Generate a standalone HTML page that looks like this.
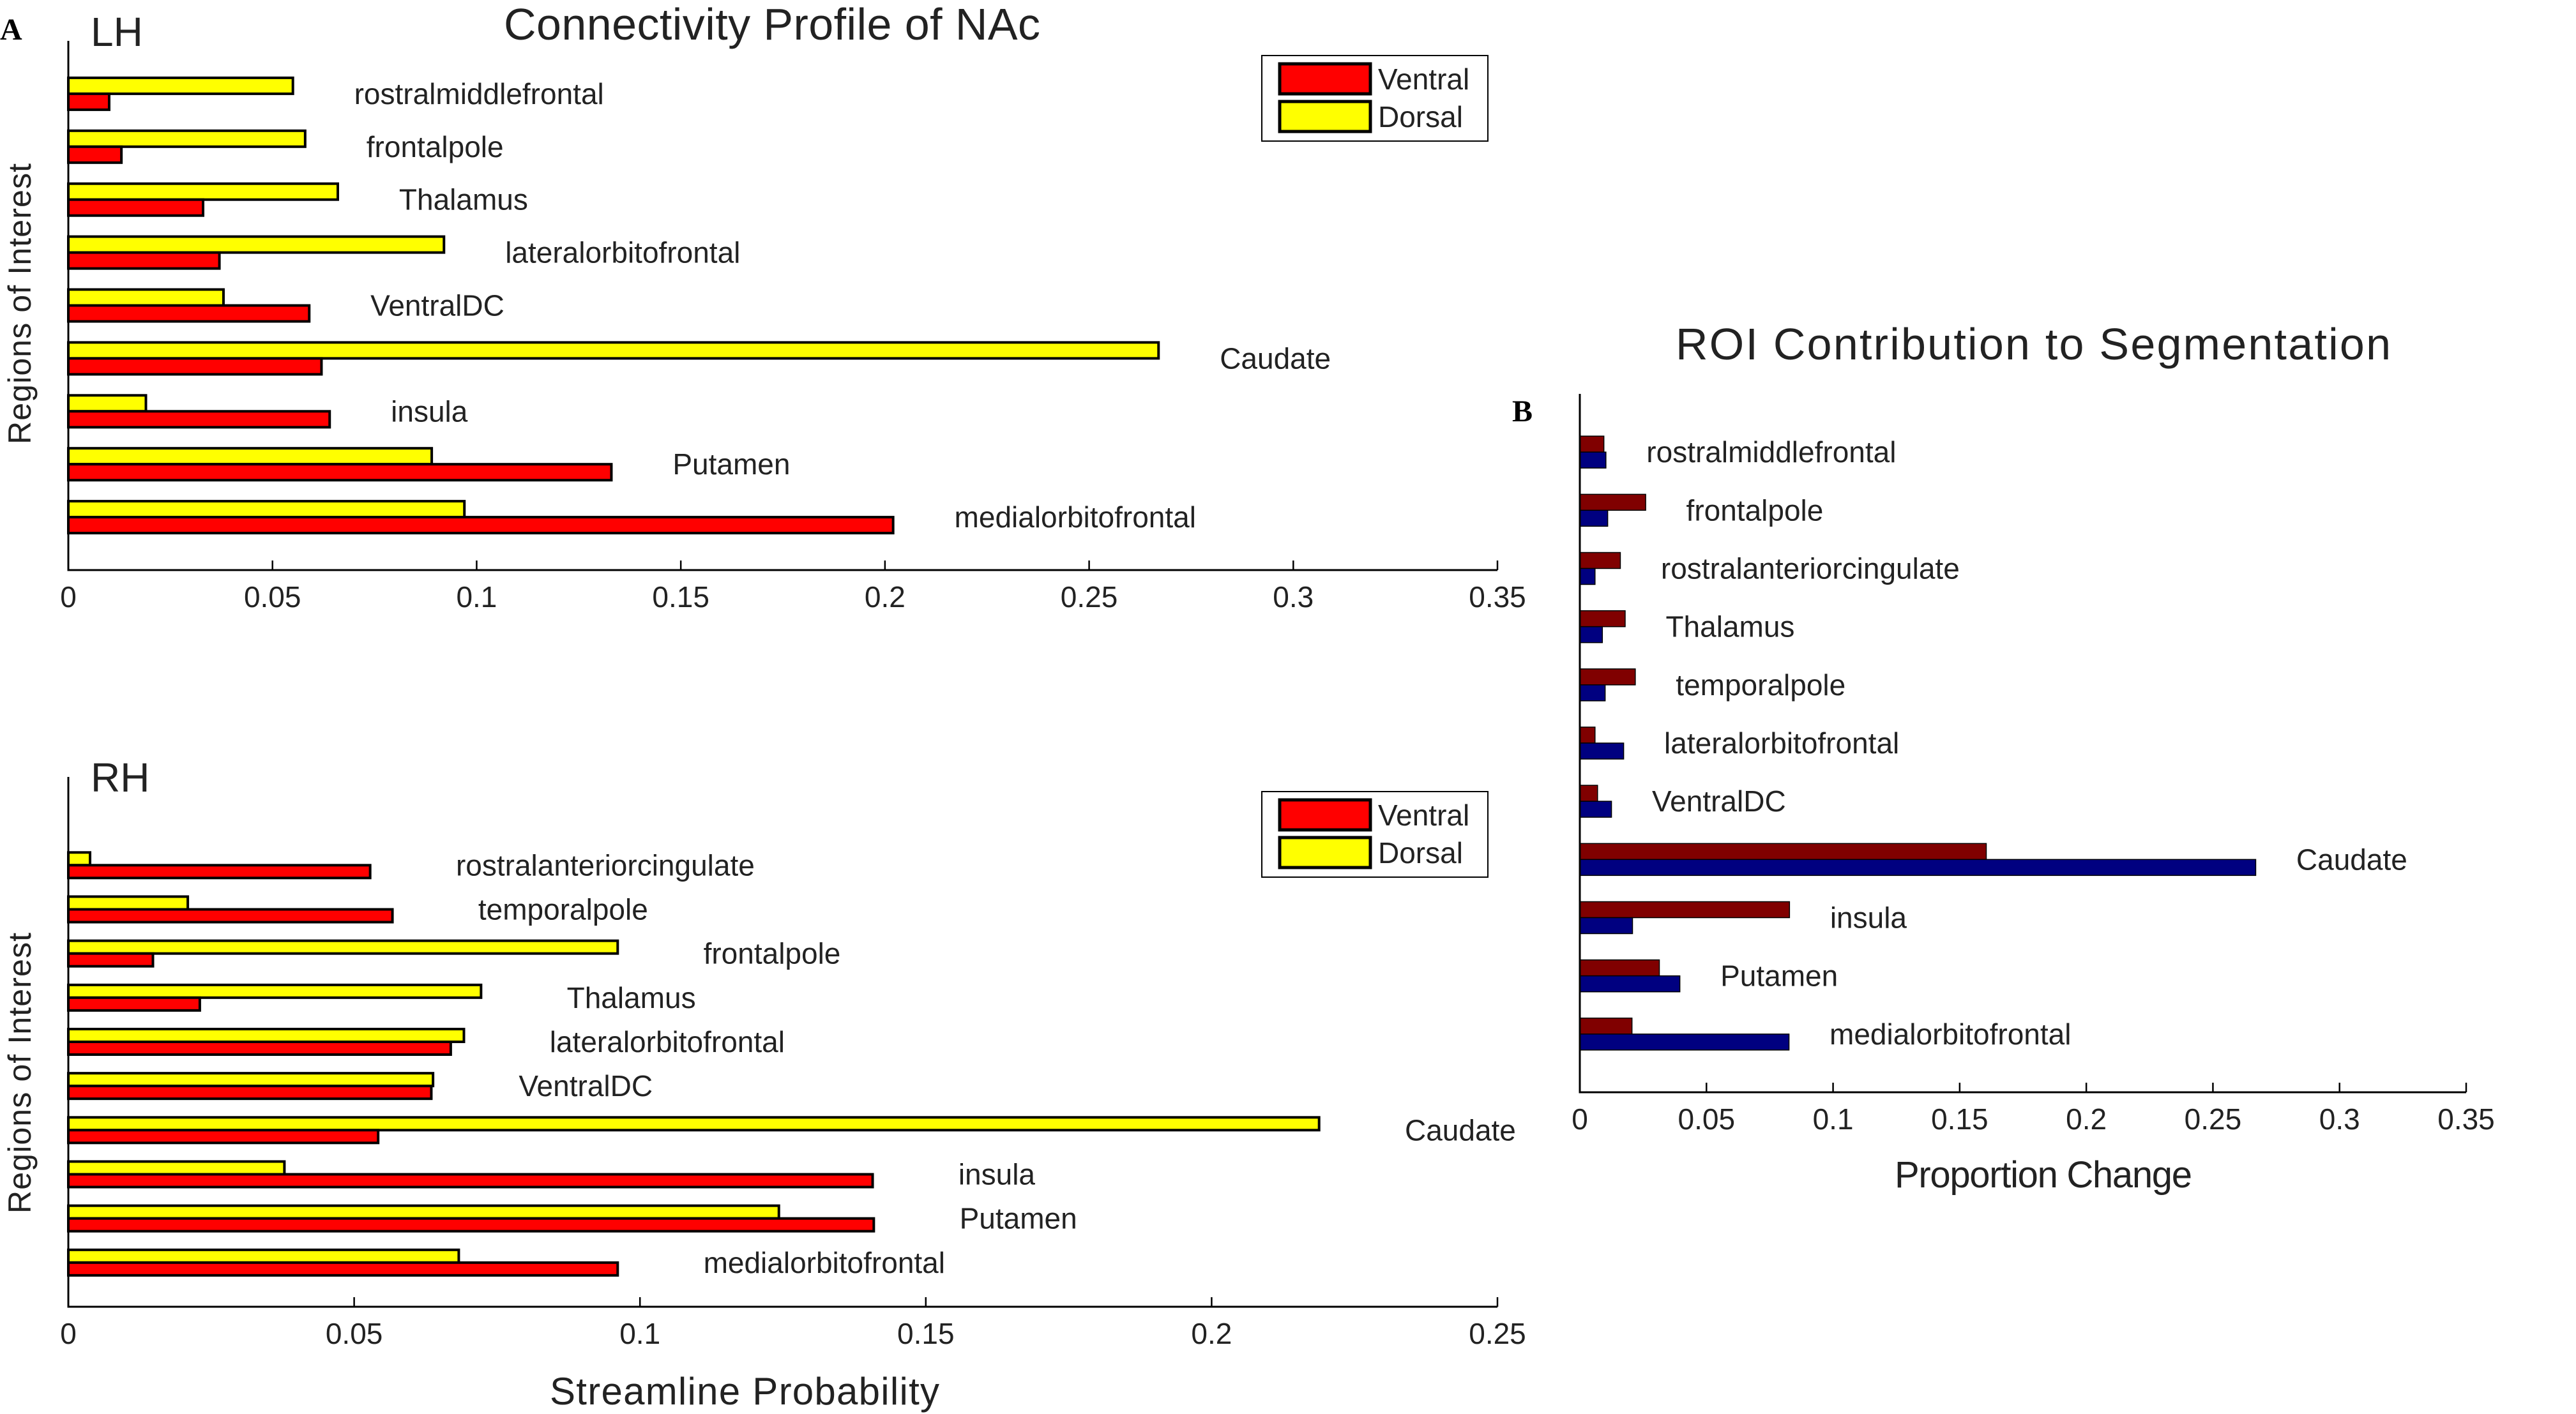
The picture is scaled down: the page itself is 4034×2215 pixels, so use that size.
<!DOCTYPE html>
<html><head><meta charset="utf-8"><style>
html,body{margin:0;padding:0;background:#fff;}
svg{display:block;font-family:"Liberation Sans",sans-serif;}
</style></head><body>
<svg id="fig" width="4034" height="2215" viewBox="0 0 4034 2215" xmlns="http://www.w3.org/2000/svg">
<text x="0" y="62" font-family="Liberation Serif,serif" font-weight="bold" font-size="48">A</text>
<text x="2368" y="660" font-family="Liberation Serif,serif" font-weight="bold" font-size="48">B</text>
<text x="1209" y="62" text-anchor="middle" font-size="70" textLength="840" fill="#222">Connectivity Profile of NAc</text>
<text x="142" y="72" font-size="64" fill="#222">LH</text>
<text x="142" y="1240" font-size="64" fill="#222">RH</text>
<text transform="translate(48,476) rotate(-90)" text-anchor="middle" font-size="50" textLength="440" fill="#222">Regions of Interest</text>
<text transform="translate(48,1681) rotate(-90)" text-anchor="middle" font-size="50" textLength="440" fill="#222">Regions of Interest</text>
<text x="1166" y="2200" text-anchor="middle" font-size="60" textLength="610" fill="#222">Streamline Probability</text>
<text x="3200" y="1860" text-anchor="middle" font-size="58" textLength="466" fill="#222">Proportion Change</text>
<text x="3184" y="563" text-anchor="middle" font-size="70" textLength="1120" fill="#222">ROI Contribution to Segmentation</text>
</svg>
<script>
// LH data (top to bottom)
const lhCats = ["rostralmiddlefrontal","frontalpole","Thalamus","lateralorbitofrontal","VentralDC","Caudate","insula","Putamen","medialorbitofrontal"];
const lhDorsal = [0.055,0.058,0.066,0.092,0.038,0.267,0.019,0.089,0.097];
const lhVentral = [0.010,0.013,0.033,0.037,0.059,0.062,0.064,0.133,0.202];
const lhTicks = ["0","0.05","0.1","0.15","0.2","0.25","0.3","0.35"];
// RH data
const rhCats = ["rostralanteriorcingulate","temporalpole","frontalpole","Thalamus","lateralorbitofrontal","VentralDC","Caudate","insula","Putamen","medialorbitofrontal"];
const rhDorsal = [0.0038,0.0209,0.0961,0.0722,0.0692,0.0638,0.2188,0.0378,0.1243,0.0683];
const rhVentral = [0.0528,0.0567,0.0148,0.023,0.0669,0.0635,0.0542,0.1407,0.1409,0.0961];
const rhTicks = ["0","0.05","0.1","0.15","0.2","0.25"];
// ROI contribution data
const bCats = ["rostralmiddlefrontal","frontalpole","rostralanteriorcingulate","Thalamus","temporalpole","lateralorbitofrontal","VentralDC","Caudate","insula","Putamen","medialorbitofrontal"];
const bRed = [0.0095,0.026,0.016,0.0179,0.0219,0.006,0.007,0.1605,0.0828,0.0314,0.0206];
const bBlue = [0.0103,0.011,0.006,0.0089,0.01,0.0173,0.0125,0.2669,0.0208,0.0395,0.0826];
const bTicks = ["0","0.05","0.1","0.15","0.2","0.25","0.3","0.35"];

const svg = document.getElementById('fig');
const NS = 'http://www.w3.org/2000/svg';
function mk(tag, attrs, parent){const e=document.createElementNS(NS,tag);for(const k in attrs)e.setAttribute(k,attrs[k]);(parent||svg).appendChild(e);return e;}

function panel(p){
  const g = mk('g',{});
  
  
  const xs = v => p.x0 + v/p.xmax*(p.x1-p.x0);
  const slot = (p.yb-p.yt)/p.nslots;
  const n = p.cats.length;
  const yc = i => p.yb - (n-i)*slot;
  for(let i=0;i<n;i++){
    const c = yc(i);
    const r1 = mk('rect',{x:p.x0,y:c-p.bh,width:Math.max(0,xs(p.a[i])-p.x0),height:p.bh,fill:p.ca,stroke:'#000','stroke-width':p.sw},g);
    
    
    const r2 = mk('rect',{x:p.x0,y:c,width:Math.max(0,xs(p.b[i])-p.x0),height:p.bh,fill:p.cb,stroke:'#000','stroke-width':p.sw},g);
    
    
    const t = mk('text',{x:xs(Math.max(p.a[i],p.b[i])+p.off),y:c+16,'font-size':46,fill:'#222'},g);
    t.textContent = p.cats[i];
    
    
  }
  const ax = mk('path',{d:`M${p.x0} ${p.yt} V${p.yb} H${p.x1}`,fill:'none',stroke:'#000','stroke-width':3},g);
  
  
  const step = p.xmax/(p.ticks.length-1);
  p.ticks.forEach((lab,j)=>{
    const x = xs(j*step);
    if(j>0){const tk=mk('line',{x1:x,y1:p.yb,x2:x,y2:p.yb-15,stroke:'#000','stroke-width':2.5},g);
      
      }
    const tl = mk('text',{x:x,y:p.yb+58,'text-anchor':'middle','font-size':46,fill:'#222'},g);
    tl.textContent = lab;
    
    
  });
}
function legend(x,y,name){
  const g = mk('g',{});
  
  
  mk('rect',{x:x,y:y,width:354,height:134,fill:'#fff',stroke:'#000','stroke-width':2},g);
  [['#ff0000','Ventral',13],['#ffff00','Dorsal',72]].forEach(e=>{
    const s=mk('rect',{x:x+28,y:y+e[2],width:142,height:47,fill:e[0],stroke:'#000','stroke-width':5},g);
    
    
    const t=mk('text',{x:x+182,y:y+e[2]+40,'font-size':46,fill:'#222'},g);
    t.textContent=e[1];
    
    
  });
}
panel({name:'lh-chart',cats:lhCats,a:lhDorsal,b:lhVentral,sa:'dorsal',sb:'ventral',ca:'#ffff00',cb:'#ff0000',x0:107,x1:2345,yt:64,yb:893,nslots:10,xmax:0.35,bh:25,sw:4,off:0.015,ticks:lhTicks});
panel({name:'rh-chart',cats:rhCats,a:rhDorsal,b:rhVentral,sa:'dorsal',sb:'ventral',ca:'#ffff00',cb:'#ff0000',x0:107,x1:2345,yt:1217,yb:2047,nslots:12,xmax:0.25,bh:20,sw:4,off:0.015,ticks:rhTicks});
panel({name:'roi-chart',cats:bCats,a:bRed,b:bBlue,sa:'red',sb:'blue',ca:'#800000',cb:'#000080',x0:2474,x1:3862,yt:617,yb:1711,nslots:12,xmax:0.35,bh:25,sw:1.5,off:0.016,ticks:bTicks});
legend(1976,87,'lh-legend');
legend(1976,1240,'rh-legend');
</script>
</body></html>
